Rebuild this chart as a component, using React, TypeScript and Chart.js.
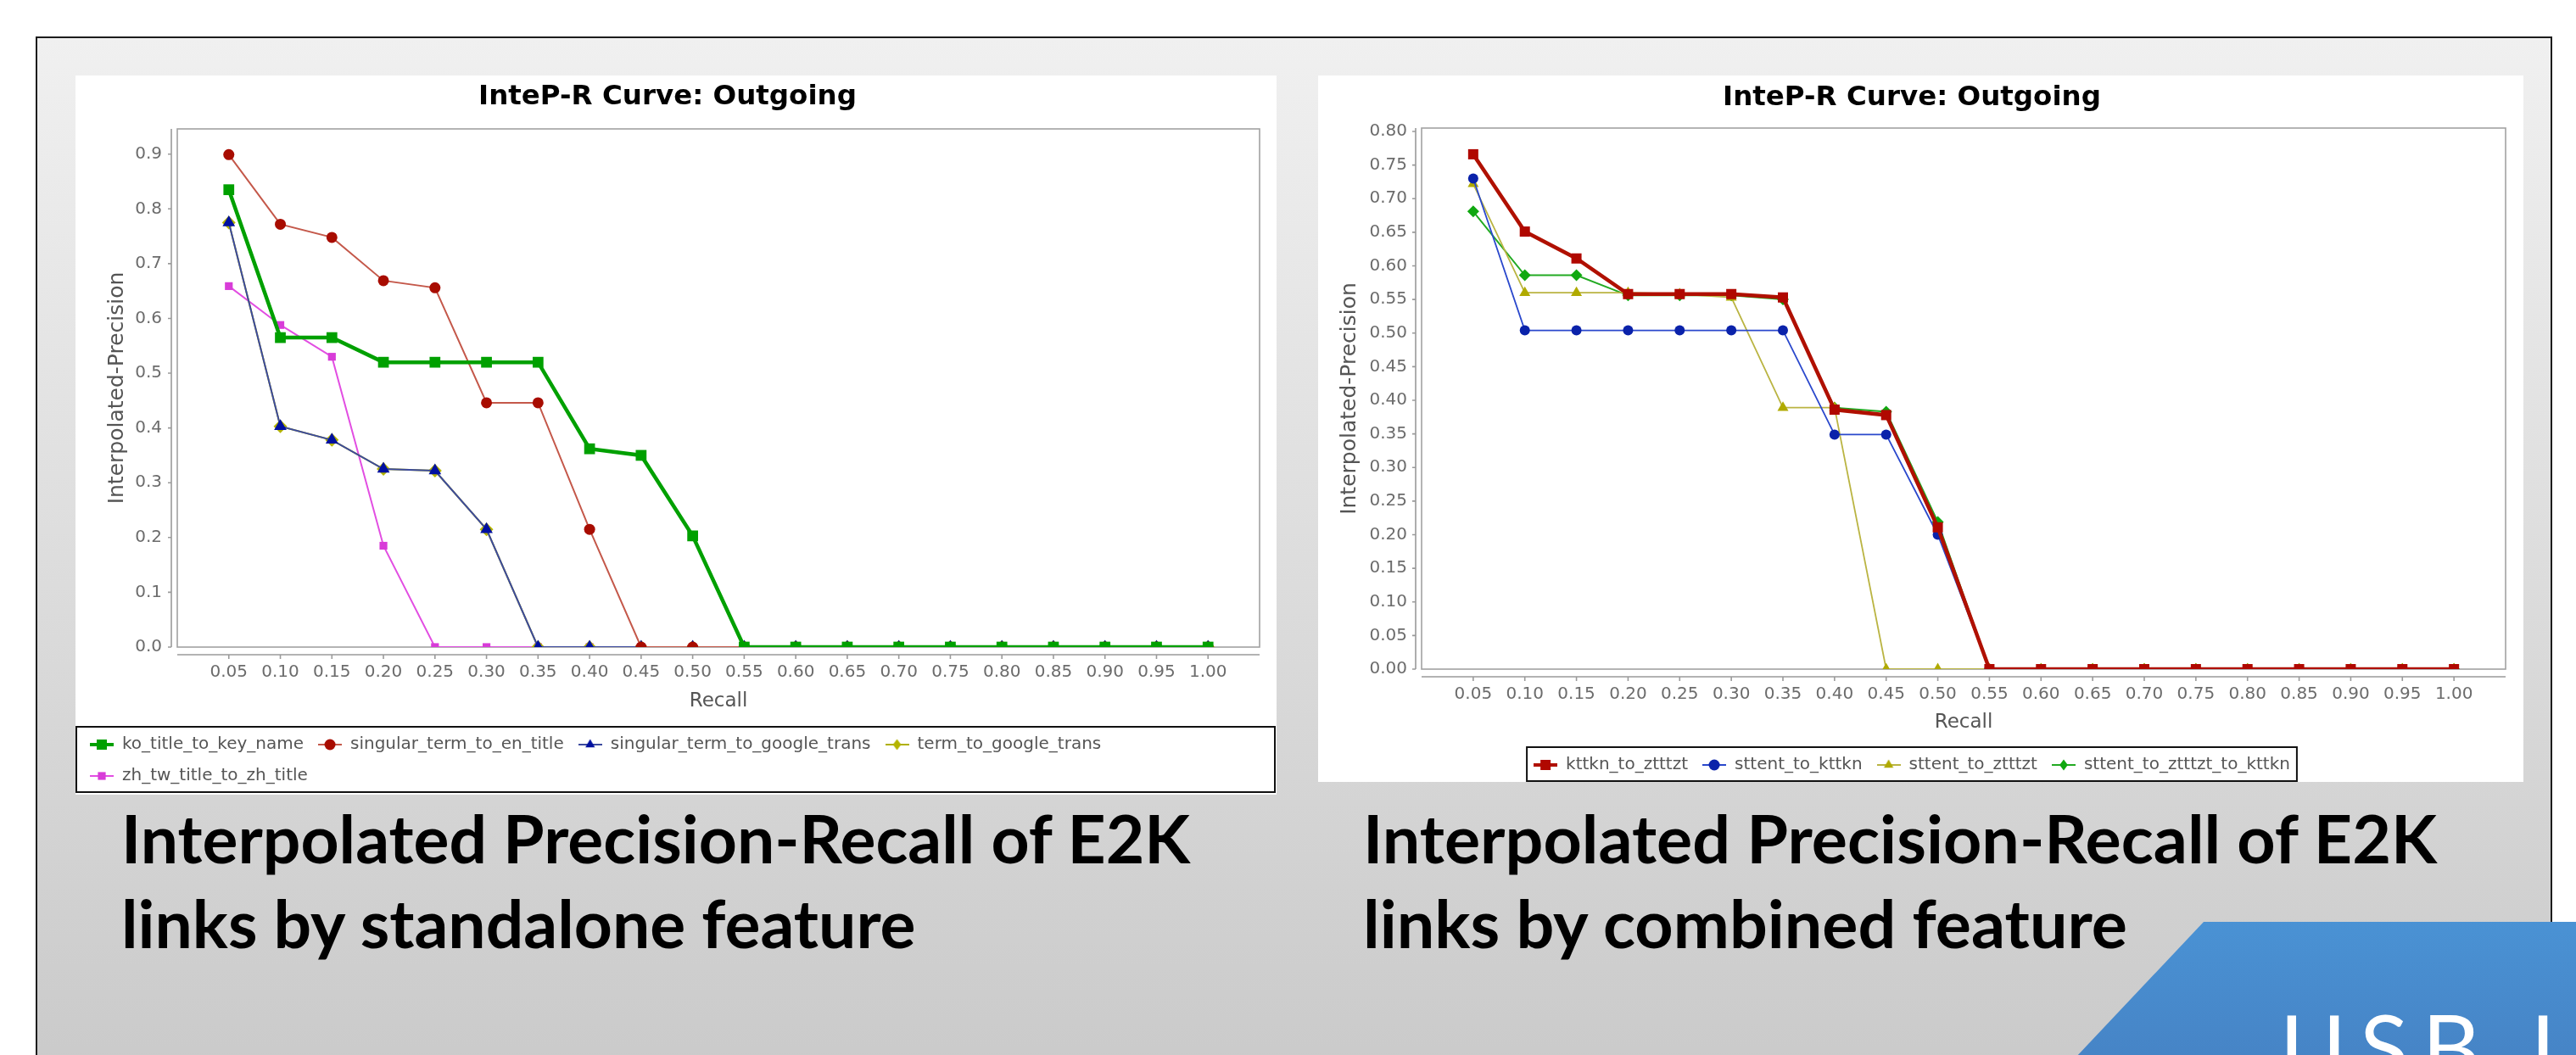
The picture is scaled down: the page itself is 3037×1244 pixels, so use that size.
import React, { useEffect, useLayoutEffect, useRef, useState } from 'react';
import { Chart, registerables } from 'chart.js';

Chart.register(...registerables);

// ---------- data ----------
const recall = [0.05, 0.10, 0.15, 0.20, 0.25, 0.30, 0.35, 0.40, 0.45, 0.50, 0.55, 0.60, 0.65, 0.70, 0.75, 0.80, 0.85, 0.90, 0.95, 1.00];

// left chart: standalone features
const koTitleToKeyName = [0.835, 0.565, 0.565, 0.520, 0.520, 0.520, 0.520, 0.362, 0.350, 0.203, 0, 0, 0, 0, 0, 0, 0, 0, 0, 0];
const singularTermToEnTitle = [0.899, 0.772, 0.748, 0.669, 0.656, 0.446, 0.446, 0.215, 0, 0, 0, 0, 0, 0, 0, 0, 0, 0, 0, 0];
const singularTermToGoogleTrans = [0.775, 0.403, 0.378, 0.325, 0.322, 0.215, 0, 0, 0, 0, 0, 0, 0, 0, 0, 0, 0, 0, 0, 0];
const termToGoogleTrans = [0.775, 0.403, 0.378, 0.325, 0.322, 0.215, 0, 0, 0, 0, 0, 0, 0, 0, 0, 0, 0, 0, 0, 0];
const zhTwTitleToZhTitle = [0.659, 0.588, 0.530, 0.185, 0, 0, 0, 0, 0, 0, 0, 0, 0, 0, 0, 0, 0, 0, 0, 0];
const leftYTicks = [0, 0.1, 0.2, 0.3, 0.4, 0.5, 0.6, 0.7, 0.8, 0.9];
const leftYMax = 0.946;

// right chart: combined features
const kttknToZtttzt = [0.766, 0.651, 0.611, 0.558, 0.558, 0.558, 0.553, 0.386, 0.378, 0.211, 0, 0, 0, 0, 0, 0, 0, 0, 0, 0];
const sttentToKttkn = [0.730, 0.504, 0.504, 0.504, 0.504, 0.504, 0.504, 0.349, 0.349, 0.200, 0, 0, 0, 0, 0, 0, 0, 0, 0, 0];
const sttentToZtttzt = [0.722, 0.560, 0.560, 0.560, 0.558, 0.553, 0.389, 0.389, 0, 0, 0, 0, 0, 0, 0, 0, 0, 0, 0, 0];
const sttentToZtttztToKttkn = [0.681, 0.586, 0.586, 0.556, 0.556, 0.556, 0.550, 0.389, 0.383, 0.219, 0, 0, 0, 0, 0, 0, 0, 0, 0, 0];
const rightYTicks = [0, 0.05, 0.10, 0.15, 0.20, 0.25, 0.30, 0.35, 0.40, 0.45, 0.50, 0.55, 0.60, 0.65, 0.70, 0.75, 0.80];
const rightYMax = 0.805;

const chartTitle = 'InteP-R Curve: Outgoing';
const xTitle = 'Recall';
const yTitle = 'Interpolated-Precision';

// ---------- styles ----------
type Shape = 'rect' | 'circle' | 'triangle' | 'rectRot';
interface Series { label: string; data: number[]; line: string; marker: string; lineWidth: number; shape: Shape; radius: number; }

const leftSeries: Series[] = [
  { label: 'ko_title_to_key_name', data: koTitleToKeyName, line: '#00a000', marker: '#00a000', lineWidth: 4.5, shape: 'rect', radius: 9 },
  { label: 'singular_term_to_en_title', data: singularTermToEnTitle, line: '#c4584a', marker: '#a80c00', lineWidth: 2, shape: 'circle', radius: 6.5 },
  { label: 'singular_term_to_google_trans', data: singularTermToGoogleTrans, line: '#3c4a9e', marker: '#0010a0', lineWidth: 2, shape: 'triangle', radius: 8.5 },
  { label: 'term_to_google_trans', data: termToGoogleTrans, line: '#b0b000', marker: '#b4b400', lineWidth: 2, shape: 'rectRot', radius: 8 },
  { label: 'zh_tw_title_to_zh_title', data: zhTwTitleToZhTitle, line: '#e24ee2', marker: '#d83cd8', lineWidth: 2, shape: 'rect', radius: 6.5 },
];

const rightSeries: Series[] = [
  { label: 'kttkn_to_ztttzt', data: kttknToZtttzt, line: '#b01000', marker: '#b00800', lineWidth: 4.5, shape: 'rect', radius: 8.5 },
  { label: 'sttent_to_kttkn', data: sttentToKttkn, line: '#2a48cc', marker: '#0a22aa', lineWidth: 1.8, shape: 'circle', radius: 6 },
  { label: 'sttent_to_ztttzt', data: sttentToZtttzt, line: '#bab442', marker: '#b0aa00', lineWidth: 1.8, shape: 'triangle', radius: 7.5 },
  { label: 'sttent_to_ztttzt_to_kttkn', data: sttentToZtttztToKttkn, line: '#22aa22', marker: '#10a810', lineWidth: 2, shape: 'rectRot', radius: 7 },
];

const FONT = 'DejaVu Sans';

function drawShape(ctx: CanvasRenderingContext2D, shape: Shape, x: number, y: number, r: number) {
  ctx.beginPath();
  if (shape === 'circle') ctx.arc(x, y, r, 0, Math.PI * 2);
  else if (shape === 'rect') { const s = r * Math.SQRT1_2; ctx.rect(x - s, y - s, 2 * s, 2 * s); }
  else if (shape === 'triangle') { ctx.moveTo(x, y - r); ctx.lineTo(x + r * 0.866, y + r * 0.5); ctx.lineTo(x - r * 0.866, y + r * 0.5); ctx.closePath(); }
  else { ctx.moveTo(x, y - r); ctx.lineTo(x + r * 0.75, y); ctx.lineTo(x, y + r); ctx.lineTo(x - r * 0.75, y); ctx.closePath(); }
  ctx.fill();
}

function makeIcon(s: Series): HTMLCanvasElement {
  const c = document.createElement('canvas');
  c.width = 28; c.height = 16;
  const ctx = c.getContext('2d')!;
  ctx.strokeStyle = s.line;
  ctx.lineWidth = s.lineWidth > 3 ? 4 : 2;
  ctx.beginPath(); ctx.moveTo(0, 8); ctx.lineTo(28, 8); ctx.stroke();
  ctx.fillStyle = s.marker;
  drawShape(ctx, s.shape, 14, 8, s.shape === 'rect' ? (s.lineWidth > 3 ? 8.5 : 6.5) : 6.5);
  return c;
}

// JFreeChart-like plot outline and offset axes
const jfreePlot = {
  id: 'jfreePlot',
  beforeDatasetsDraw(chart: any) {
    const { ctx, chartArea: a, scales } = chart;
    ctx.save();
    ctx.strokeStyle = '#a2a2a2';
    ctx.lineWidth = 1.6;
    ctx.strokeRect(a.left, a.top, a.right - a.left, a.bottom - a.top);
    ctx.strokeStyle = '#9a9a9a';
    ctx.beginPath();
    const yx = a.left - 7;
    ctx.moveTo(yx, a.top); ctx.lineTo(yx, a.bottom);
    scales.y.ticks.forEach((t: any) => { const py = scales.y.getPixelForValue(t.value); ctx.moveTo(yx - 4, py); ctx.lineTo(yx, py); });
    const xy = a.bottom + 9;
    ctx.moveTo(a.left, xy); ctx.lineTo(a.right, xy);
    scales.x.ticks.forEach((t: any) => { const px = scales.x.getPixelForValue(t.value); ctx.moveTo(px, xy); ctx.lineTo(px, xy + 5); });
    ctx.stroke();
    ctx.restore();
  },
};

const legendFrame = {
  id: 'legendFrame',
  afterDraw(chart: any, _args: any, opts: any) {
    const lg = chart.legend;
    if (!lg || !lg.legendHitBoxes || !lg.legendHitBoxes.length) return;
    const hb = lg.legendHitBoxes;
    const top = Math.min(...hb.map((h: any) => h.top)) - 11;
    const bottom = Math.max(...hb.map((h: any) => h.top)) + 29;
    let left: number, right: number;
    if (opts && opts.full) { left = 1; right = chart.width - 2; }
    else {
      left = Math.min(...hb.map((h: any) => h.left)) - 8;
      right = Math.max(...hb.map((h: any) => h.left + h.width)) + 8;
    }
    const ctx = chart.ctx;
    ctx.save();
    ctx.strokeStyle = '#111';
    ctx.lineWidth = 2;
    ctx.strokeRect(left, top, right - left, bottom - top);
    ctx.restore();
  },
};

interface ChartProps {
  width: number; height: number; series: Series[]; yTicks: number[]; yMax: number; yDec: number;
  yWidth: number; yTitlePad: number; yLabelPad: number; xHeight: number; xTitlePad: number;
  padRight: number; padBottom: number; titleTop: number; titleBottom: number;
  legendAlign: 'start' | 'center'; legendFull: boolean;
}

function PRChart(p: ChartProps) {
  const ref = useRef<HTMLCanvasElement>(null);
  useEffect(() => {
    if (!ref.current) return;
    const icons = p.series.map(makeIcon);
    const chart = new Chart(ref.current, {
      type: 'line',
      data: {
        datasets: p.series.map((s) => ({
          label: s.label,
          data: recall.map((r, i) => ({ x: r, y: s.data[i] })),
          borderColor: s.line,
          backgroundColor: s.marker,
          pointBackgroundColor: s.marker,
          pointBorderColor: s.marker,
          pointBorderWidth: 0,
          pointStyle: s.shape,
          pointRadius: s.radius,
          pointHoverRadius: s.radius,
          borderWidth: s.lineWidth,
          tension: 0,
          fill: false,
        })),
      },
      options: {
        animation: false,
        responsive: false,
        events: [],
        layout: { padding: { left: 0, right: p.padRight, top: 0, bottom: p.padBottom } },
        plugins: {
          title: {
            display: true, text: chartTitle, color: '#000',
            font: { family: FONT, size: 32.5, weight: 'bold' },
            padding: { top: p.titleTop, bottom: p.titleBottom },
          },
          legend: {
            display: true, position: 'bottom', align: p.legendAlign,
            labels: {
              usePointStyle: true, pointStyleWidth: 28, padding: 17, color: '#555',
              font: { family: FONT, size: 20 },
              generateLabels: (ch: any) => ch.data.datasets.map((ds: any, i: number) => ({
                text: ds.label, pointStyle: icons[i], fillStyle: ds.borderColor, strokeStyle: ds.borderColor,
                lineWidth: 0, hidden: false, datasetIndex: i, fontColor: '#555',
              })),
            },
          },
          tooltip: { enabled: false },
          legendFrame: { full: p.legendFull },
        } as any,
        scales: {
          x: {
            type: 'linear', min: 0, max: 1.05,
            grid: { display: false, drawTicks: false }, border: { display: false },
            afterBuildTicks: (ax: any) => { ax.ticks = recall.map((v) => ({ value: v })); },
            afterFit: (ax: any) => { ax.height = p.xHeight; },
            ticks: {
              autoSkip: false, maxRotation: 0, minRotation: 0, padding: 18, color: '#6c6c6c',
              font: { family: FONT, size: 20 }, callback: (v: any) => Number(v).toFixed(2),
            },
            title: { display: true, text: xTitle, color: '#555', font: { family: FONT, size: 23 }, padding: { top: 0, bottom: p.xTitlePad } },
          },
          y: {
            type: 'linear', min: 0, max: p.yMax,
            grid: { display: false, drawTicks: false }, border: { display: false },
            afterBuildTicks: (ax: any) => { ax.ticks = p.yTicks.map((v) => ({ value: v })); },
            afterFit: (ax: any) => { ax.width = p.yWidth; },
            ticks: {
              autoSkip: false, padding: p.yLabelPad, color: '#6c6c6c',
              font: { family: FONT, size: 20 }, callback: (v: any) => Number(v).toFixed(p.yDec),
            },
            title: { display: true, text: yTitle, color: '#555', font: { family: FONT, size: 25 }, padding: { top: p.yTitlePad, bottom: 0 } },
          },
        } as any,
      },
      plugins: [jfreePlot, legendFrame],
    } as any);
    return () => chart.destroy();
  }, []);
  return <canvas ref={ref} width={p.width} height={p.height} style={{ display: 'block', width: p.width, height: p.height }} />;
}

function Caption({ left, top, width, lines }: { left: number; top: number; width: number; lines: string[] }) {
  const r1 = useRef<HTMLSpanElement>(null);
  const [sx, setSx] = useState(1);
  useLayoutEffect(() => {
    const measure = () => { if (r1.current) { const w = r1.current.offsetWidth; if (w > 0) setSx(width / w); } };
    measure();
    if ((document as any).fonts && (document as any).fonts.ready) (document as any).fonts.ready.then(measure);
  }, []);
  const base: React.CSSProperties = {
    position: 'absolute', left, whiteSpace: 'nowrap', fontFamily: 'Lato, "Open Sans", sans-serif', fontWeight: 700,
    fontSize: 78, lineHeight: 1.2, color: '#000', transform: `scaleX(${sx})`, transformOrigin: '0 0',
  };
  return (
    <>
      <span ref={r1} style={{ ...base, top }}>{lines[0]}</span>
      <span style={{ ...base, top: top + 100 }}>{lines[1]}</span>
    </>
  );
}

export default function App() {
  return (
    <div style={{ position: 'fixed', left: 0, top: 0, width: 3037, height: 1244, overflow: 'hidden', background: '#fff' }}>
      <div style={{ position: 'absolute', left: 42, top: 43, width: 2967, height: 1260, boxSizing: 'border-box', border: '2px solid #1c1c1c', background: 'linear-gradient(#f0f0f0, #c9c9c9)' }} />
      <div style={{ position: 'absolute', left: 89, top: 89, width: 1416, height: 848, background: '#fff' }}>
        <PRChart width={1416} height={848} series={leftSeries} yTicks={leftYTicks} yMax={leftYMax} yDec={1}
          yWidth={120} yTitlePad={34} yLabelPad={18} xHeight={88} xTitlePad={10} padRight={20} padBottom={2}
          titleTop={6.5} titleBottom={17.5} legendAlign="start" legendFull={true} />
      </div>
      <div style={{ position: 'absolute', left: 1554, top: 89, width: 1421, height: 833, background: '#fff' }}>
        <PRChart width={1421} height={833} series={rightSeries} yTicks={rightYTicks} yMax={rightYMax} yDec={2}
          yWidth={122} yTitlePad={22} yLabelPad={17} xHeight={86} xTitlePad={9} padRight={21} padBottom={0}
          titleTop={7} titleBottom={16} legendAlign="center" legendFull={false} />
      </div>
      <Caption left={143} top={942} width={1260} lines={['Interpolated Precision-Recall of E2K', 'links by standalone feature']} />
      <Caption left={1607} top={942} width={1266} lines={['Interpolated Precision-Recall of E2K', 'links by combined feature']} />
      <div style={{ position: 'absolute', left: 2447, top: 1087, width: 590, height: 160, background: 'linear-gradient(#4a92d4, #4684c6)', clipPath: 'polygon(151px 0, 100% 0, 100% 100%, 0 100%)' }} />
      <div style={{ position: 'absolute', left: 2688, top: 1170, whiteSpace: 'nowrap', fontFamily: 'Lato, "Open Sans", sans-serif', fontWeight: 400, fontSize: 106, lineHeight: 1.2, letterSpacing: 16, color: '#fff' }}>USB L</div>
    </div>
  );
}
